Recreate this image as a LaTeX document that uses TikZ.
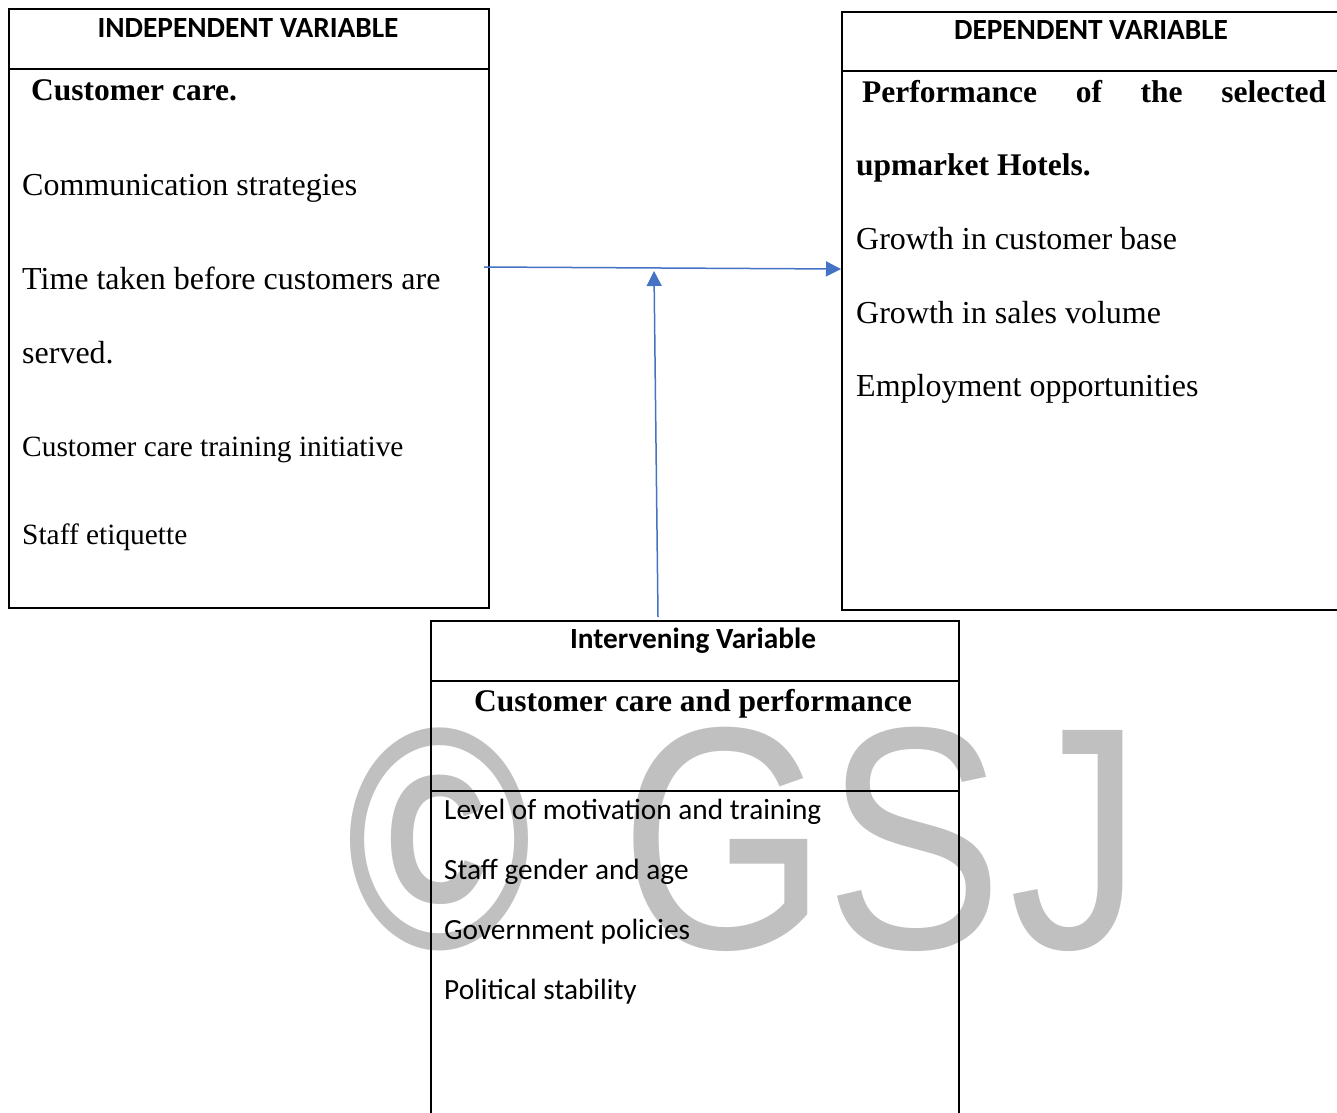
\documentclass[tikz,border=0pt]{standalone}
\usepackage{fontspec}
\setmainfont{Liberation Serif}
\newfontfamily\calibri{Carlito}
\newfontfamily\arialfont{Liberation Sans}
\usetikzlibrary{arrows.meta}
\definecolor{linkblue}{HTML}{4472C4}
\definecolor{markgray}{HTML}{C0C0C0}
\begin{document}
\begin{tikzpicture}[x=1pt,y=-1pt]
 \tikzset{box/.style={draw, line width=2pt, rectangle, anchor=north west, inner sep=0pt},
  head/.style={font=\calibri\bfseries\fontsize{29.3}{34}\selectfont, inner sep=0pt},
  title/.style={font=\bfseries\fontsize{31.5}{36}\selectfont, inner sep=0pt},
  item/.style={anchor=mid west, inner sep=0pt, font=\fontsize{32}{38}\selectfont},
  small/.style={item, font=\fontsize{29.4}{34}\selectfont},
  factor/.style={item, font=\calibri\fontsize{29.3}{34}\selectfont},
  wmark/.style={font=\arialfont\fontsize{317}{317}\selectfont, text=markgray,
               xscale=0.84, anchor=base, inner sep=0pt},
  link/.style={draw=linkblue, line width=1.5pt, -{Triangle[length=15pt,width=15pt]}}}
  \useasboundingbox (0,0) rectangle (1337,1112);
  \clip (0,0) rectangle (1337,1112);
  % watermark
  \node[wmark, font=\arialfont\bfseries\fontsize{316}{316}\selectfont, xscale=0.95] (wmc) at (439,948) {©};
  \node[wmark] (wmg) at (724,948) {G};
  \node[wmark] (wms) at (914,948) {S};
  \node[wmark] (wmj) at (1076,948) {J};
  % boxes
  \node[box, minimum width=480, minimum height=599] (indep) at (8,8) {};
  \node[box, minimum width=510, minimum height=598] (dep) at (841,11) {};
  \node[box, minimum width=528, minimum height=520] (interv) at (430,620) {};
  \draw[line width=2pt] (8,69) -- (488,69);
  \draw[line width=2pt] (841,71) -- (1345,71);
  \draw[line width=2pt] (430,681) -- (958,681);
  \draw[line width=2pt] (430,791) -- (958,791);
  % independent variable
  \node[head] (ih) at (248,28) {INDEPENDENT VARIABLE};
  \node[title, anchor=mid west] (it) at (31,98) {Customer care.};
  \node[item] (i1) at (22,193) {Communication strategies};
  \node[item] (i2) at (22,287) {Time taken before customers are};
  \node[item] (i3) at (22,361) {served.};
  \node[small] (i4) at (22,454) {Customer care training initiative};
  \node[small] (i5) at (22,542) {Staff etiquette};
  % dependent variable
  \node[head] (dh) at (1091,30) {DEPENDENT VARIABLE};
  \node[title, anchor=mid west, text width=464, align=justify] (dt) at (862,100)
    {Performance\hfill of\hfill the\hfill selected};
  \node[title, anchor=mid west] (dt2) at (856,173) {upmarket Hotels.};
  \node[item] (d1) at (856,247) {Growth in customer base};
  \node[item] (d2) at (856,321) {Growth in sales volume};
  \node[item] (d3) at (856,394) {Employment opportunities};
  % intervening variable
  \node[head] (vh) at (693,641) {Intervening Variable};
  \node[title] (vt) at (693,704) {Customer care and performance};
  \node[factor] (v1) at (444,817) {Level of motivation and training};
  \node[factor] (v2) at (444,877) {Staff gender and age};
  \node[factor] (v3) at (444,937) {Government policies};
  \node[factor] (v4) at (444,997) {Political stability};
  % links
  \coordinate (src) at (484,267);
  \coordinate (tgt) at (841,269);
  \coordinate (foot) at (658,617);
  \coordinate (meet) at (654,271);
  \draw[link] (src) -- (tgt);
  \draw[link] (foot) -- (meet);
\end{tikzpicture}
\end{document}
